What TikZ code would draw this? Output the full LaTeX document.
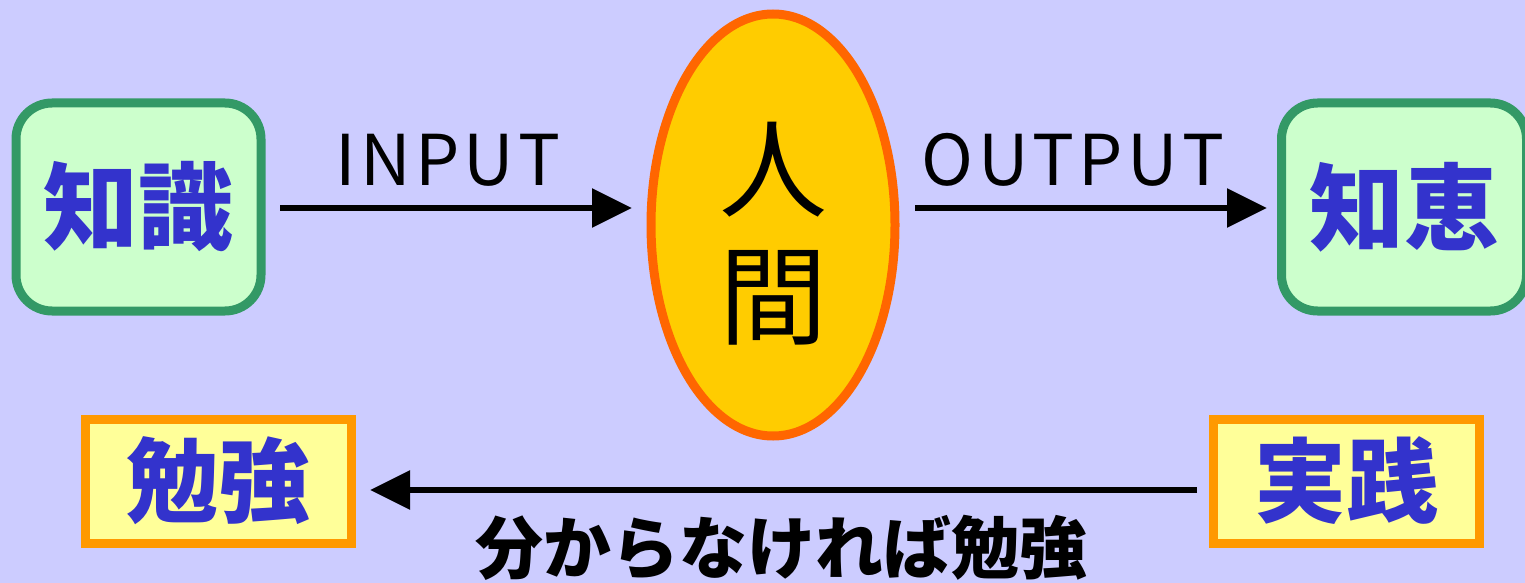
\documentclass[tikz,border=0pt]{standalone}
\usepackage{fontspec}
\setmainfont{Noto Sans CJK JP}
\newfontfamily\jpfont{Noto Sans CJK JP}
\newfontfamily\lsfont[LetterSpace=6]{Noto Sans CJK JP}
\usetikzlibrary{arrows.meta,shapes.geometric}
\definecolor{bgc}{HTML}{CCCCFF}
\definecolor{greenb}{HTML}{339966}
\definecolor{greenf}{HTML}{CCFFCC}
\definecolor{orangeb}{HTML}{FF9900}
\definecolor{yellowf}{HTML}{FFFF99}
\definecolor{ellb}{HTML}{FF6600}
\definecolor{ellf}{HTML}{FFCC00}
\definecolor{bluet}{HTML}{3333CC}
\newcommand{\dn}[1]{\raisebox{-7pt}{#1}}
\tikzset{
  greenbox/.style={draw=greenb,fill=greenf,line width=9pt,rounded corners=36pt,
    minimum width=245pt,minimum height=208pt,inner sep=0pt,
    font=\fontsize{95}{100}\selectfont\bfseries,text=bluet},
  orangebox/.style={draw=orangeb,fill=yellowf,line width=9pt,
    minimum width=266pt,minimum height=124pt,inner sep=0pt,
    font=\fontsize{92}{96}\selectfont\bfseries,text=bluet},
  human/.style={ellipse,draw=ellb,fill=ellf,line width=9pt,
    minimum width=244pt,minimum height=422pt,inner sep=0pt},
  humantext/.style={font=\fontsize{108}{127}\selectfont,align=center,inner sep=0pt},
  arr/.style={line width=6pt,-{Triangle[length=40pt,width=38pt]}},
  lbl/.style={font=\lsfont\fontsize{70}{80}\selectfont,inner sep=0pt}
}
\begin{document}
\begin{tikzpicture}[x=1pt,y=-1pt]
\useasboundingbox (0,0) rectangle (1525,583);
\clip (0,0) rectangle (1525,583);
\fill[bgc] (0,0) rectangle (1525,583);
\node[greenbox] (chishiki) at (138.5,207) {\dn{知識}};
\node[greenbox] (chie) at (1404,207) {\dn{知恵}};
\node[human] (ningen) at (773,225) {};
\node[humantext] (ningenlbl) at (773,234) {人\\間};
\node[orangebox] (benkyo) at (218,481) {\dn{勉強}};
\node[orangebox] (jissen) at (1346.5,481) {\dn{実践}};
\coordinate (a1) at (280,208);
\coordinate (a2) at (632,208);
\coordinate (b1) at (915,208);
\coordinate (b2) at (1267,208);
\coordinate (c1) at (1197,490);
\coordinate (c2) at (370,490);
\draw[arr] (a1) -- (a2);
\draw[arr] (b1) -- (b2);
\draw[arr] (c1) -- (c2);
\node[lbl] (inp) at (448,160) {INPUT};
\node[lbl] (outp) at (1073,160) {OUTPUT};
\node[font=\fontsize{68}{72}\selectfont\bfseries,inner sep=0pt] (bottom) at (781,548) {分からなければ勉強};
\end{tikzpicture}
\end{document}
